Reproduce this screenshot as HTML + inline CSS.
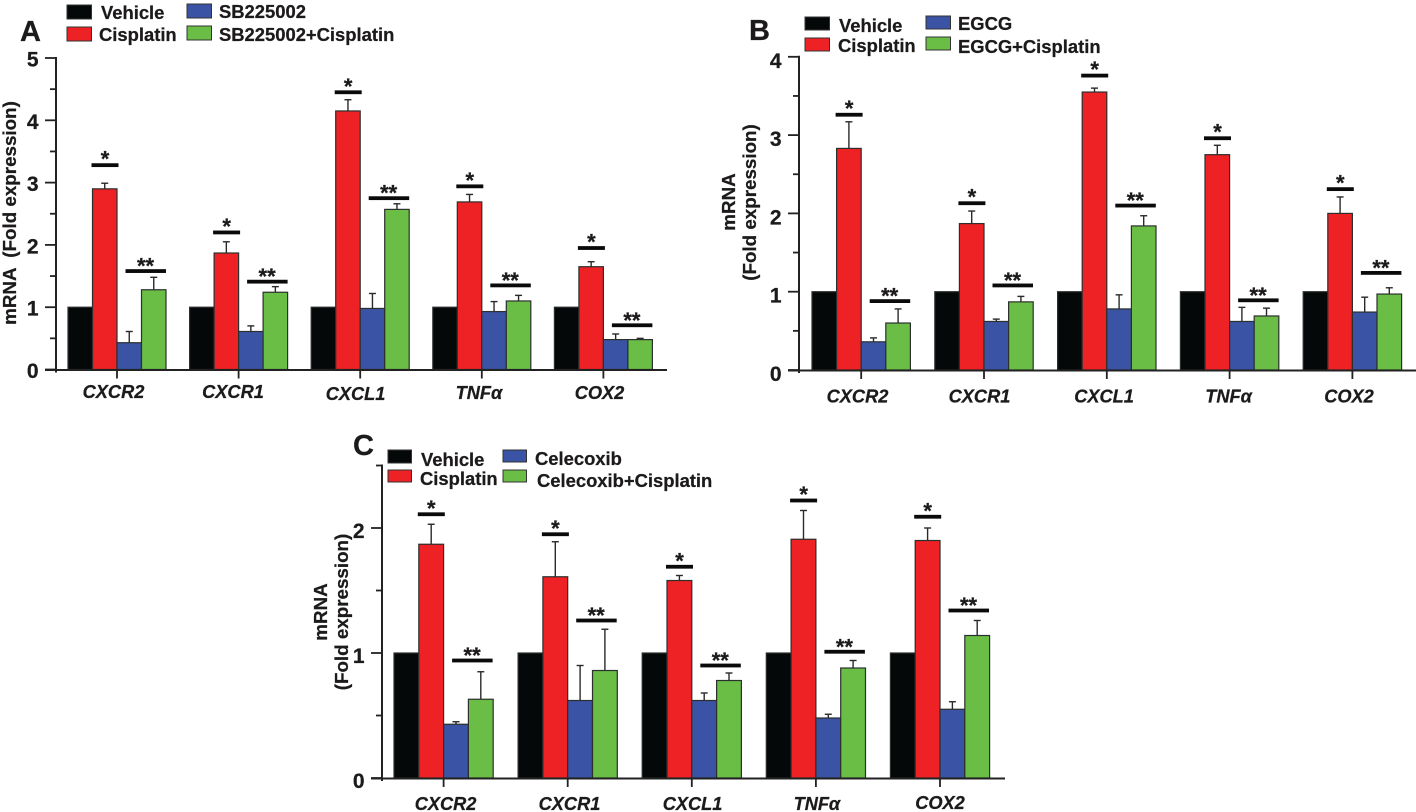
<!DOCTYPE html>
<html lang="en">
<head>
<meta charset="utf-8">
<title>mRNA fold expression by treatment</title>
<style>
  html, body { margin: 0; padding: 0; background: #fff; }
  #figure { display: block; width: 1416px; height: 812px; }
  text { font-family: "Liberation Sans", sans-serif; font-weight: bold; fill: #1c1a1b; stroke: #1c1a1b; stroke-width: 0.25; white-space: pre; }
</style>
</head>
<body>
<svg id="figure" xmlns="http://www.w3.org/2000/svg" width="1416" height="812" viewBox="0 0 1416 812"></svg>
<script>
// ---- Shared data ----
const genes = ['CXCR2', 'CXCR1', 'CXCL1', 'TNFα', 'COX2'];

// ---- Panel A ----
const aVehicle = [1, 1, 1, 1, 1];
const aCisplatin = [2.9, 1.87, 4.15, 2.69, 1.65];
const aCisplatinErr = [0.09, 0.18, 0.18, 0.12, 0.08];
const aDrug = [0.43, 0.61, 0.98, 0.93, 0.48];
const aDrugErr = [0.18, 0.09, 0.24, 0.16, 0.09];
const aCombo = [1.28, 1.24, 2.57, 1.1, 0.48];
const aComboErr = [0.2, 0.09, 0.09, 0.09, 0.02];
const aSigSingle = [3.28, 2.2, 4.45, 2.94, 1.95];
const aSigDouble = [1.58, 1.41, 2.75, 1.35, 0.71];
const aTicks = [0, 1, 2, 3, 4, 5];

// ---- Panel B ----
const bVehicle = [1, 1, 1, 1, 1];
const bCisplatin = [2.83, 1.87, 3.55, 2.75, 2.0];
const bCisplatinErr = [0.34, 0.16, 0.05, 0.12, 0.21];
const bDrug = [0.36, 0.62, 0.78, 0.62, 0.74];
const bDrugErr = [0.05, 0.03, 0.18, 0.18, 0.19];
const bCombo = [0.6, 0.87, 1.84, 0.69, 0.97];
const bComboErr = [0.18, 0.07, 0.13, 0.1, 0.08];
const bSigSingle = [3.26, 2.13, 3.76, 2.96, 2.31];
const bSigDouble = [0.88, 1.08, 2.1, 0.89, 1.24];
const bTicks = [0, 1, 2, 3, 4];

// ---- Panel C ----
const cVehicle = [1, 1, 1, 1, 1];
const cCisplatin = [1.87, 1.61, 1.58, 1.91, 1.9];
const cCisplatinErr = [0.16, 0.28, 0.04, 0.23, 0.1];
const cDrug = [0.43, 0.62, 0.62, 0.48, 0.55];
const cDrugErr = [0.02, 0.28, 0.06, 0.03, 0.06];
const cCombo = [0.63, 0.86, 0.78, 0.88, 1.14];
const cComboErr = [0.22, 0.33, 0.06, 0.06, 0.12];
const cSigSingle = [2.11, 1.95, 1.69, 2.22, 2.09];
const cSigDouble = [0.94, 1.26, 0.9, 1.01, 1.34];
const cTicks = [0, 1, 2];

// ---- Rendering ----
const NS = 'http://www.w3.org/2000/svg';
const svg = document.getElementById('figure');
const seriesColors = ['#050808', '#ee2124', '#3a53a4', '#6abd45'];
const seriesKeys = ['vehicle', 'cisplatin', 'drug', 'combo'];

function make(tag, attrs, parent, content) {
  const node = document.createElementNS(NS, tag);
  for (const k in attrs) node.setAttribute(k, attrs[k]);
  if (content !== undefined) node.textContent = content;
  parent.appendChild(node);
  return node;
}

function drawPanel(p) {
  const group = make('g', {}, svg);
  
  

  const y = v => p.y0 - v * p.unit;
  const x = i => p.x0 + i * p.pitch;

  // Panel letter
  const letter = make('text', { x: p.letterX, y: p.letterY, 'font-size': 29 }, group, p.id.toUpperCase());
  
  

  // Bars and error bars
  p.series.forEach((values, s) => {
    values.forEach((v, i) => {
      const bx = x(i) + s * p.bw;
      const errs = p.errors[s];
      if (errs) {
        const cx = bx + p.bw / 2;
        const top = y(v + errs[i]);
        const stem = make('line', { x1: cx, x2: cx, y1: y(v), y2: top, stroke: '#2a2a2a', 'stroke-width': 1.4 }, group);
        
        
        const cap = make('line', { x1: cx - 3.5, x2: cx + 3.5, y1: top, y2: top, stroke: '#2a2a2a', 'stroke-width': 1.4 }, group);
        
        
      }
      const bar = make('rect', {
        x: bx, y: y(v), width: p.bw, height: p.y0 - y(v),
        fill: seriesColors[s], stroke: '#2b2f2d', 'stroke-width': 1.2
      }, group);
      
      
    });
  });

  // Significance markers
  genes.forEach((g, i) => {
    const sx = x(i) + p.bw;
    const sy = y(p.sigSingle[i]);
    const b1 = make('rect', { x: sx - 1, y: sy - 1.9, width: 27, height: 3.8, fill: '#0a0a0a' }, group);
    
    
    const s1 = make('text', { x: sx + 12.5, y: sy + 1.5, 'font-size': 22, 'text-anchor': 'middle' }, group, '*');
    
    
    const dx = x(i) + 2 * p.bw + 8.5;
    const dy = y(p.sigDouble[i]);
    const b2 = make('rect', { x: dx, y: dy - 1.9, width: 40.5, height: 3.8, fill: '#0a0a0a' }, group);
    
    
    const s2 = make('text', { x: dx + 20, y: dy + 2.5, 'font-size': 22, 'text-anchor': 'middle' }, group, '**');
    
    
  });

  // Axes
  const yTop = y(p.yMax);
  const yAxis = make('line', { x1: p.ax, x2: p.ax, y1: yTop - 1, y2: p.y0 + 3, stroke: '#222', 'stroke-width': 2 }, group);
  
  
  const xAxis = make('line', { x1: p.ax - 11, x2: p.axEnd, y1: p.y0 + 0.5, y2: p.y0 + 0.5, stroke: '#222', 'stroke-width': 2 }, group);
  
  

  // Y ticks (major with labels, minor halfway)
  p.ticks.forEach(t => {
    const major = make('line', { x1: p.ax - 11, x2: p.ax, y1: y(t), y2: y(t), stroke: '#222', 'stroke-width': 1.8 }, group);
    
    
    const label = make('text', { x: p.ax - 17.5, y: y(t) + p.tickLabelDy, 'font-size': 21, 'text-anchor': 'end' }, group, String(t));
    
    
    if (t + 0.5 <= p.yMax) {
      const minor = make('line', { x1: p.ax - 6, x2: p.ax, y1: y(t + 0.5), y2: y(t + 0.5), stroke: '#222', 'stroke-width': 1.8 }, group);
      
      
    }
  });

  // X ticks and labels
  genes.forEach((g, i) => {
    const tx = x(i) + 2 * p.bw;
    const tick = make('line', { x1: tx, x2: tx, y1: p.y0, y2: p.y0 + 9, stroke: '#222', 'stroke-width': 1.8 }, group);
    
    
    const label = make('text', {
      x: tx + p.labelDx[i], y: p.labelY + p.labelDy[i], 'font-size': 18.2,
      'font-style': 'italic', 'text-anchor': 'middle'
    }, group, g);
    
    
  });

  // Y axis title
  p.yTitle.forEach(line => {
    const title = make('text', {
      transform: 'translate(' + line.x + ' ' + line.y + ') rotate(-90)',
      'font-size': 18.8, 'text-anchor': 'middle'
    }, group, line.text);
    
    
  });

  // Legend
  p.legend.forEach((entry, s) => {
    const swatch = make('rect', {
      x: entry.sx, y: entry.sy, width: entry.sw, height: entry.sh,
      fill: seriesColors[s], stroke: '#333', 'stroke-width': 1
    }, group);
    
    
    const text = make('text', { x: entry.tx, y: entry.ty, 'font-size': 18.4 }, group, entry.label);
    
    
  });
}

drawPanel({
  id: 'a', letterX: 20, letterY: 41,
  x0: 68, pitch: 121.6, bw: 24.5, y0: 369.5, unit: 62.3, ax: 56, axEnd: 667, yMax: 5, tickLabelDy: 8.5,
  labelY: 398, labelDx: [-3.5, -5.6, -4.7, -2.8, -3.9], labelDy: [0, 0, 2, 1, 1],
  series: [aVehicle, aCisplatin, aDrug, aCombo],
  errors: [null, aCisplatinErr, aDrugErr, aComboErr],
  sigSingle: aSigSingle, sigDouble: aSigDouble, ticks: aTicks,
  yTitle: [{ x: 16, y: 213, text: 'mRNA  (Fold expression)' }],
  legend: [
    { sx: 67, sy: 5, sw: 24.5, sh: 14, tx: 101, ty: 19, label: 'Vehicle' },
    { sx: 67, sy: 27, sw: 24.5, sh: 14, tx: 99, ty: 41, label: 'Cisplatin' },
    { sx: 187, sy: 4, sw: 24.5, sh: 14, tx: 219, ty: 18, label: 'SB225002' },
    { sx: 187, sy: 26, sw: 24.5, sh: 14, tx: 219, ty: 41, label: 'SB225002+Cisplatin' }
  ]
});

drawPanel({
  id: 'b', letterX: 749, letterY: 40,
  x0: 812, pitch: 122.8, bw: 24.6, y0: 370, unit: 78.3, ax: 799, axEnd: 1416, yMax: 4, tickLabelDy: 11,
  labelY: 402.5, labelDx: [-3.7, -4.5, -2.8, -1, -3.4], labelDy: [0, 0, 0, 0, 0],
  series: [bVehicle, bCisplatin, bDrug, bCombo],
  errors: [null, bCisplatinErr, bDrugErr, bComboErr],
  sigSingle: bSigSingle, sigDouble: bSigDouble, ticks: bTicks,
  yTitle: [{ x: 735, y: 202, text: 'mRNA' }, { x: 756, y: 202.5, text: '(Fold expression)' }],
  legend: [
    { sx: 805, sy: 17, sw: 24.5, sh: 13, tx: 839, ty: 32, label: 'Vehicle' },
    { sx: 805, sy: 38, sw: 24.5, sh: 13, tx: 838, ty: 52, label: 'Cisplatin' },
    { sx: 926, sy: 16, sw: 24.5, sh: 13, tx: 958, ty: 30, label: 'EGCG' },
    { sx: 926, sy: 37, sw: 24.5, sh: 13, tx: 958, ty: 53, label: 'EGCG+Cisplatin' }
  ]
});

drawPanel({
  id: 'c', letterX: 353, letterY: 455,
  x0: 394, pitch: 124.1, bw: 24.8, y0: 778, unit: 125, ax: 382, axEnd: 1005, yMax: 2.5, tickLabelDy: 10,
  labelY: 810, labelDx: [2, 1.8, 0.7, 1, 0], labelDy: [0, 0, 0, 0, -1],
  series: [cVehicle, cCisplatin, cDrug, cCombo],
  errors: [null, cCisplatinErr, cDrugErr, cComboErr],
  sigSingle: cSigSingle, sigDouble: cSigDouble, ticks: cTicks,
  yTitle: [{ x: 327, y: 612, text: 'mRNA' }, { x: 348, y: 612, text: '(Fold expression)' }],
  legend: [
    { sx: 388, sy: 450, sw: 23.5, sh: 13, tx: 421, ty: 466, label: 'Vehicle' },
    { sx: 388, sy: 470, sw: 23.5, sh: 12, tx: 420, ty: 485, label: 'Cisplatin' },
    { sx: 503, sy: 450, sw: 23.5, sh: 12, tx: 535, ty: 465, label: 'Celecoxib' },
    { sx: 503, sy: 470, sw: 23.5, sh: 12, tx: 537, ty: 487, label: 'Celecoxib+Cisplatin' }
  ]
});
</script>
</body>
</html>
